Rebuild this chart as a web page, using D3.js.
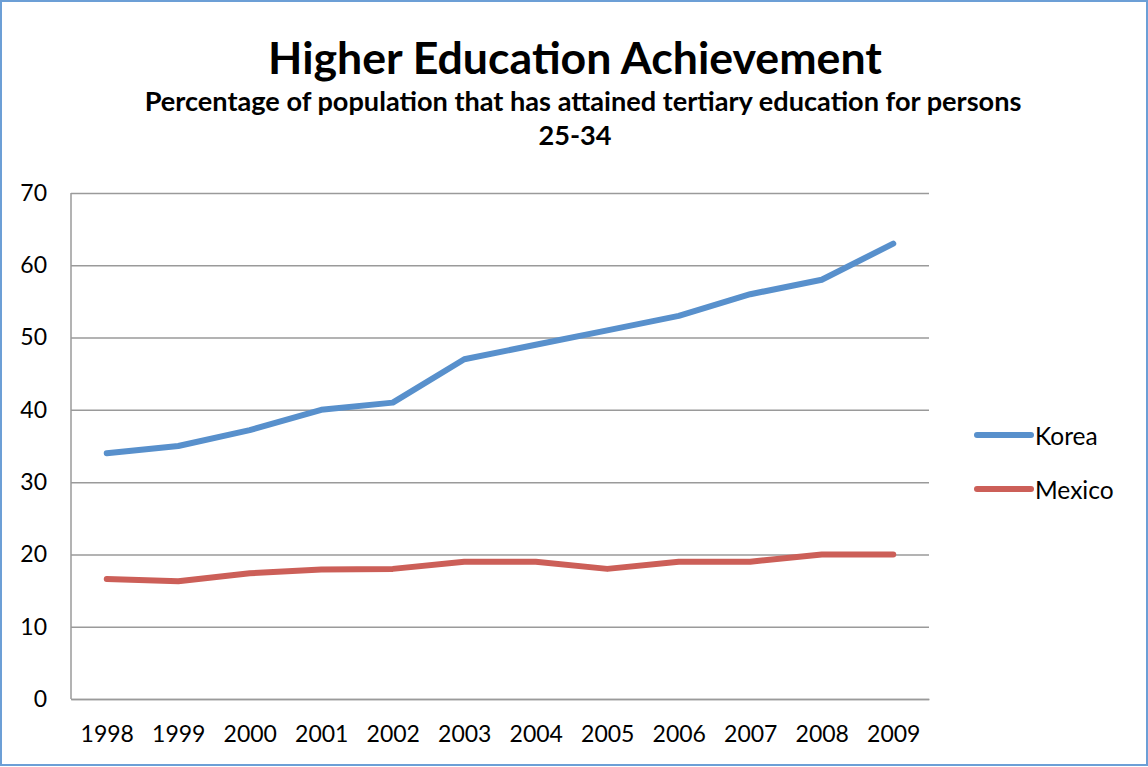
<!DOCTYPE html>
<html>
<head>
<meta charset="utf-8">
<script src="https://cdn.jsdelivr.net/npm/d3@7"></script>
<style>
    body { margin: 0; background: #fff; }
    svg { display: block; }
    text { font-family: Lato, "Open Sans", sans-serif; fill: #000; }
</style>
</head>
<body>
<div id="chartDiv"></div>
<script>
// chart data
const years = ['1998', '1999', '2000', '2001', '2002', '2003', '2004', '2005', '2006', '2007', '2008', '2009'];
const korea = [34, 35, 37.2, 40, 41, 47, 49, 51, 53, 56, 58, 63];
const mexico = [16.6, 16.3, 17.4, 17.9, 18, 19, 19, 18, 19, 19, 20, 20];
const yTicks = [0, 10, 20, 30, 40, 50, 60, 70];
const seriesNames = ['Korea', 'Mexico'];

const width = 1148;
const height = 767;
const margin = {top: 193, right: 219, bottom: 68, left: 71};

const svg = d3.select('#chartDiv')
    .append('svg')
    .attr('width', width)
    .attr('height', height);

// outer frame
svg.append('rect')
    .attr('x', 1)
    .attr('y', 1)
    .attr('width', width - 2)
    .attr('height', height - 3)
    .style('fill', 'none')
    .style('stroke', '#6c9fd6')
    .style('stroke-width', 2);

// shrink or grow a text until it has the wanted width
function fitText(sel, targetWidth) {
    const node = sel.node();
    const size = parseFloat(sel.style('font-size'));
    const w = node.getComputedTextLength();
    sel.style('font-size', (size * targetWidth / w) + 'px');
}

const title = svg.append('text')
    .attr('x', 575)
    .attr('y', 74)
    .attr('text-anchor', 'middle')
    .style('font-weight', 'bold')
    .style('font-size', '40px')
    .text('Higher Education Achievement');
fitText(title, 614);

const sub1 = svg.append('text')
    .attr('x', 583)
    .attr('y', 111)
    .attr('text-anchor', 'middle')
    .style('font-weight', 'bold')
    .style('font-size', '22px')
    .text('Percentage of population that has attained tertiary education for persons');
fitText(sub1, 877);

svg.append('text')
    .attr('x', 575)
    .attr('y', 145)
    .attr('text-anchor', 'middle')
    .style('font-weight', 'bold')
    .style('font-size', sub1.style('font-size'))
    .text('25-34');

const plotW = width - margin.left - margin.right;
const plotH = height - margin.top - margin.bottom;

const x = d3.scalePoint()
    .domain(years)
    .range([0, plotW])
    .padding(0.5);

const y = d3.scaleLinear()
    .domain([0, 70])
    .range([plotH, 0]);

const g = svg.append('g')
    .attr('transform', 'translate(' + margin.left + ',' + margin.top + ')');

// horizontal gridlines
const yAxis = g.append('g')
    .call(d3.axisLeft(y).tickValues(yTicks).tickSize(-plotW).tickPadding(24).tickFormat(d3.format('d')));
yAxis.select('.domain').remove();
yAxis.selectAll('line')
    .style('stroke', '#9a9a9a')
    .style('stroke-width', 1.5);
yAxis.selectAll('text')
    .style('font-size', '23px')
    .style('font-family', 'Lato, "Open Sans", sans-serif');

// left axis line
g.append('line')
    .attr('x1', 0).attr('x2', 0)
    .attr('y1', 0).attr('y2', plotH)
    .style('stroke', '#9a9a9a')
    .style('stroke-width', 1.5);

const xAxis = g.append('g')
    .attr('transform', 'translate(0,' + plotH + ')')
    .call(d3.axisBottom(x).tickSize(0).tickPadding(27));
xAxis.select('.domain')
    .style('stroke', '#9a9a9a')
    .style('stroke-width', 1.5);
xAxis.selectAll('text')
    .style('font-size', '23px')
    .style('font-family', 'Lato, "Open Sans", sans-serif');

const colors = {Korea: '#5890cc', Mexico: '#cc5f58'};
const series = [
    {name: 'Korea', values: korea},
    {name: 'Mexico', values: mexico}
];

const line = d3.line()
    .x((d, i) => x(years[i]))
    .y(d => y(d));

g.selectAll('path.series')
    .data(series).enter()
    .append('path')
    .attr('class', 'series')
    .attr('d', d => line(d.values))
    .style('fill', 'none')
    .style('stroke', d => colors[d.name])
    .style('stroke-width', 6)
    .style('stroke-linecap', 'round')
    .style('stroke-linejoin', 'round');

// legend
const legend = svg.append('g')
    .attr('transform', 'translate(977,435)');

const item = legend.selectAll('g')
    .data(seriesNames).enter()
    .append('g')
    .attr('transform', (d, i) => 'translate(0,' + (i * 54) + ')');

item.append('line')
    .attr('x1', 0).attr('x2', 54)
    .attr('y1', 0).attr('y2', 0)
    .style('stroke', d => colors[d])
    .style('stroke-width', 6)
    .style('stroke-linecap', 'round');

item.append('text')
    .attr('x', 58)
    .attr('y', 10)
    .style('font-size', '24.5px')
    .text(d => d);
</script>
</body>
</html>
